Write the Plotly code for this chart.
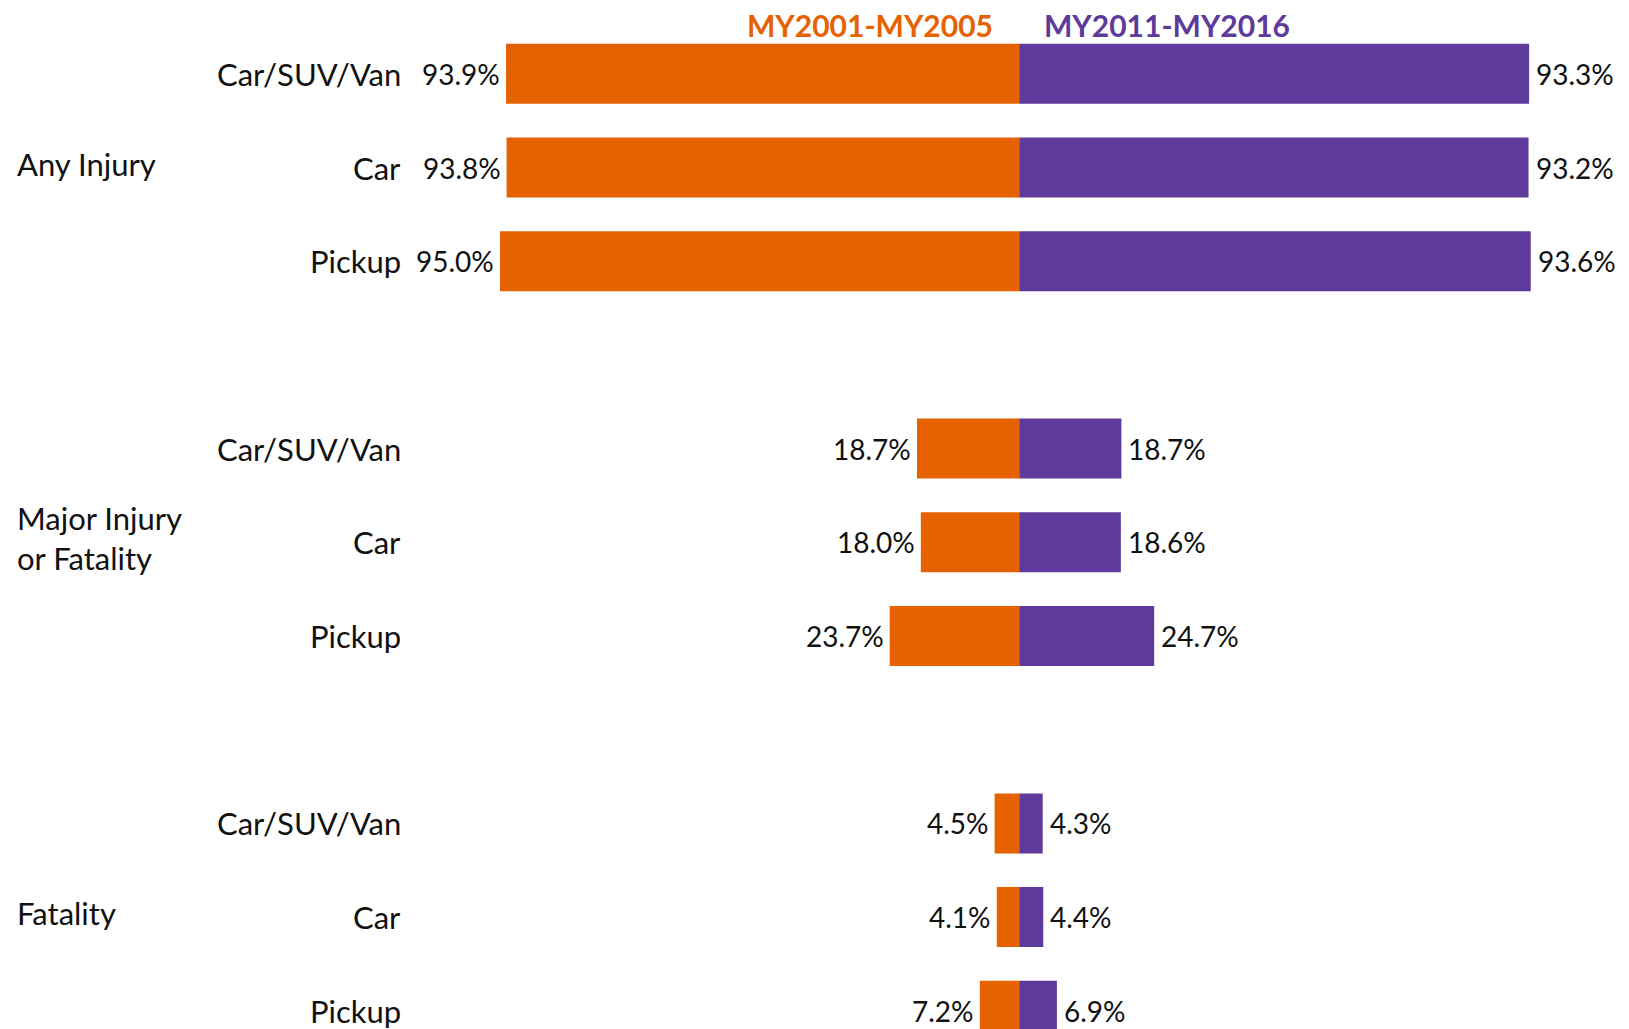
import plotly.graph_objects as go

groups = ["Any Injury", "Major Injury<br>or Fatality", "Fatality"]
vehicles = ["Car/SUV/Van", "Car", "Pickup"]
my2001_2005 = [93.9, 93.8, 95.0, 18.7, 18.0, 23.7, 4.5, 4.1, 7.2]
my2011_2016 = [93.3, 93.2, 93.6, 18.7, 18.6, 24.7, 4.3, 4.4, 6.9]
series_names = ["MY2001-MY2005", "MY2011-MY2016"]

ORANGE = "#E66100"
PURPLE = "#5D3A9B"
FONT = "Lato"
TXT = "#111111"

# page body has an 8px margin; make the figure fit the window exactly
W, H = 1621, 1021

# row positions: three rows per group, one empty slot between groups
rows = [g * 4 + v for g in range(len(groups)) for v in range(len(vehicles))]

fig = go.Figure()
fig.add_trace(go.Bar(
    y=rows, x=[-v for v in my2001_2005], orientation="h",
    marker=dict(color=ORANGE, line=dict(width=0)), width=0.64,
    name=series_names[0], hoverinfo="skip",
))
fig.add_trace(go.Bar(
    y=rows, x=my2011_2016, orientation="h",
    marker=dict(color=PURPLE, line=dict(width=0)), width=0.64,
    name=series_names[1], hoverinfo="skip",
))

ann = []
# value labels
for r, a, b in zip(rows, my2001_2005, my2011_2016):
    ann.append(dict(x=-a, y=r, xref="x", yref="y", text=f"{a:.1f}%",
                    xanchor="right", yanchor="middle", xshift=-4, showarrow=False,
                    font=dict(family=FONT, size=28, color=TXT)))
    ann.append(dict(x=b, y=r, xref="x", yref="y", text=f"{b:.1f}%",
                    xanchor="left", yanchor="middle", xshift=5, showarrow=False,
                    font=dict(family=FONT, size=28, color=TXT)))
# vehicle labels
for i, r in enumerate(rows):
    ann.append(dict(x=395 / W, y=r, xref="paper", yref="y", text=vehicles[i % 3],
                    xanchor="right", yanchor="middle", showarrow=False,
                    font=dict(family=FONT, size=31, color=TXT)))
# group labels
for g, name in enumerate(groups):
    ann.append(dict(x=7 / W, y=g * 4 + 1, xref="paper", yref="y", text=name,
                    xanchor="left", yanchor="middle", align="left", showarrow=False,
                    yshift=4, font=dict(family=FONT, size=31, color=TXT)))
# legend-like headers
ann.append(dict(x=987 / W, y=1 - 17 / H, xref="paper", yref="paper", text=f"<b>{series_names[0]}</b>",
                xanchor="right", yanchor="middle", showarrow=False,
                font=dict(family=FONT, size=30, color=ORANGE)))
ann.append(dict(x=1034 / W, y=1 - 17 / H, xref="paper", yref="paper", text=f"<b>{series_names[1]}</b>",
                xanchor="left", yanchor="middle", showarrow=False,
                font=dict(family=FONT, size=30, color=PURPLE)))

px_per = 5.465
cx = 1011.2
row0 = 65.8
row_step = 93.7
fig.update_layout(
    width=W, height=H,
    margin=dict(l=0, r=0, t=0, b=0),
    paper_bgcolor="white", plot_bgcolor="white",
    barmode="relative",
    showlegend=False,
    xaxis=dict(range=[-cx / px_per, (W - cx) / px_per], visible=False, fixedrange=True),
    yaxis=dict(range=[(H - row0) / row_step, -row0 / row_step], visible=False, fixedrange=True),
    annotations=ann,
)

fig.write_html("out.html")
